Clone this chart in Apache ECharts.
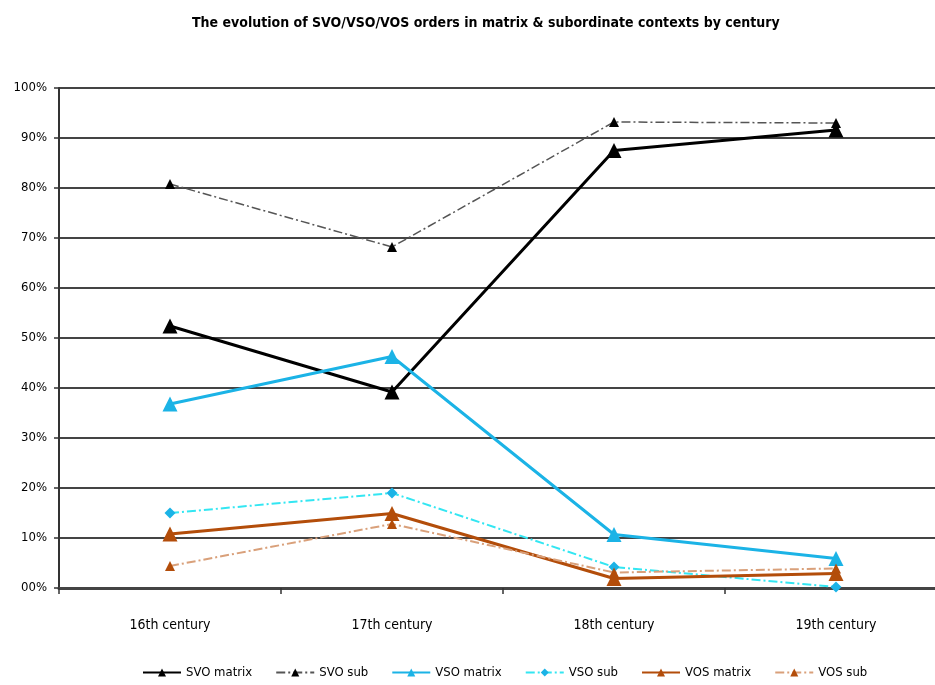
<!DOCTYPE html>
<html>
<head>
<meta charset="utf-8">
<script src="https://cdn.jsdelivr.net/npm/echarts@6/dist/echarts.min.js"></script>
<style>
html,body{margin:0;padding:0;background:#fff;overflow:hidden;}
#c{width:947px;height:685px;}
</style>
</head>
<body>
<div id="c"></div>
<script>
const categories = ['16th century', '17th century', '18th century', '19th century'];
const svoMatrix = [52.4, 39.2, 87.5, 91.6];
const svoSub = [80.8, 68.2, 93.2, 93.0];
const vsoMatrix = [36.8, 46.3, 10.7, 5.9];
const vsoSub = [15.0, 19.0, 4.2, 0.2];
const vosMatrix = [10.8, 14.9, 1.9, 2.9];
const vosSub = [4.4, 12.8, 3.1, 3.9];
const yTicks = ['00%', '10%', '20%', '30%', '40%', '50%', '60%', '70%', '80%', '90%', '100%'];

const FONT = '"Liberation Sans Narrow", "DejaVu Sans Condensed", "Liberation Sans", sans-serif';
const dashDot = [9, 3, 2, 3];

function mk(name, data, color, width, dash, symbol, size, symColor) {
  return {
    name: name,
    type: 'line',
    data: data,
    symbol: symbol,
    symbolSize: size,
    showSymbol: true,
    lineStyle: { color: color, width: width, type: dash || 'solid' },
    itemStyle: { color: symColor || color },
    emphasis: { disabled: true },
    z: 3
  };
}

const chart = echarts.init(document.getElementById('c'), null, { renderer: 'canvas' });
chart.setOption({
  animation: false,
  backgroundColor: '#fff',
  title: {
    text: 'The evolution of SVO/VSO/VOS orders in matrix & subordinate contexts by century',
    left: 187,
    top: 11,
    textStyle: { fontFamily: FONT, fontSize: 14, fontWeight: 'bold', color: '#000' }
  },
  legend: {
    bottom: 1,
    left: 137,
    itemWidth: 38,
    itemHeight: 10,
    itemGap: 23,
    textStyle: { fontFamily: FONT, fontSize: 13, color: '#000' },
    data: ['SVO matrix', 'SVO sub', 'VSO matrix', 'VSO sub', 'VOS matrix', 'VOS sub']
  },
  grid: { left: 59, top: 88, right: 0, bottom: 97, containLabel: false },
  xAxis: {
    type: 'category',
    data: categories,
    boundaryGap: true,
    axisLine: { show: true, lineStyle: { color: '#444', width: 3 } },
    axisTick: { show: true, length: 6, lineStyle: { color: '#333', width: 1.5 } },
    axisLabel: { margin: 30, fontFamily: FONT, fontSize: 14, color: '#000' },
    splitLine: { show: false }
  },
  yAxis: {
    type: 'value',
    min: 0,
    max: 100,
    interval: 10,
    axisLine: { show: true, lineStyle: { color: '#333', width: 2 } },
    axisTick: { show: true, length: 5, lineStyle: { color: '#333', width: 1.5 } },
    axisLabel: {
      margin: 12,
      fontFamily: FONT,
      fontSize: 13,
      color: '#000',
      formatter: function (v) { return yTicks[Math.round(v / 10)]; }
    },
    splitLine: { show: true, lineStyle: { color: '#444', width: 2 } }
  },
  series: [
    mk('SVO matrix', svoMatrix, '#000000', 3, null, 'triangle', 15),
    mk('SVO sub', svoSub, '#555555', 1.5, dashDot, 'triangle', 10, '#000000'),
    mk('VSO matrix', vsoMatrix, '#1bb3e6', 3, null, 'triangle', 15),
    mk('VSO sub', vsoSub, '#33e6f2', 2, dashDot, 'diamond', 11, '#1bb3e6'),
    mk('VOS matrix', vosMatrix, '#b34d0a', 3, null, 'triangle', 15),
    mk('VOS sub', vosSub, '#d9a07a', 2, dashDot, 'triangle', 10, '#b34d0a')
  ]
});
</script>
</body>
</html>
